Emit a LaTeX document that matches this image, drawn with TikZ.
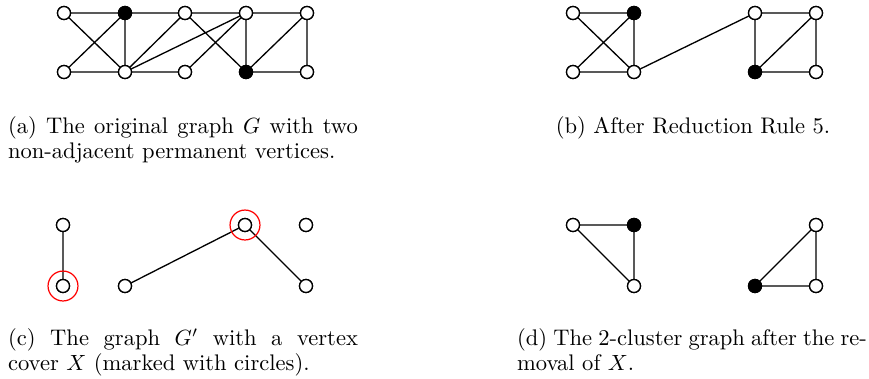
\documentclass[tikz,border=0pt]{standalone}
\usepackage{amsmath}
\begin{document}
\begin{tikzpicture}[x=0.4545pt,y=-0.4545pt,
  vtx/.style={circle,draw,line width=0.6pt,fill=white,minimum size=5.9pt,inner sep=0pt},
  perm/.style={vtx,fill=black},
  edge/.style={line width=0.6pt},
  cover/.style={circle,draw=red,line width=0.55pt,minimum size=13.6pt,inner sep=0pt},
  captfont/.style={font=\fontsize{10.25pt}{11.3pt}\selectfont},
  capt/.style={captfont,inner sep=0pt,text width=159pt,align=justify,anchor=north}]
\useasboundingbox (0,0) rectangle (869,378);
% (a)
\node[vtx]  (a1) at (64,13) {};
\node[perm] (a2) at (125,13) {};
\node[vtx]  (a3) at (185,13) {};
\node[vtx]  (a4) at (246,13) {};
\node[vtx]  (a5) at (307,13) {};
\node[vtx]  (b1) at (64,72) {};
\node[vtx]  (b2) at (125,72) {};
\node[vtx]  (b3) at (185,72) {};
\node[perm] (b4) at (246,72) {};
\node[vtx]  (b5) at (307,72) {};
\draw[edge] (a1)--(a2) (a2)--(a3) (a3)--(a4) (a4)--(a5)
  (b1)--(b2) (b2)--(b3) (b4)--(b5)
  (a1)--(b2) (b1)--(a2) (a2)--(b2) (b2)--(a3) (b2)--(a4) (b3)--(a4)
  (a3)--(b4) (a4)--(b4) (b4)--(a5) (a5)--(b5);
% (b)
\node[vtx]  (c1) at (573,13) {};
\node[perm] (c2) at (634,13) {};
\node[vtx]  (c4) at (755,13) {};
\node[vtx]  (c5) at (816,13) {};
\node[vtx]  (d1) at (573,72) {};
\node[vtx]  (d2) at (634,72) {};
\node[perm] (d4) at (755,72) {};
\node[vtx]  (d5) at (816,72) {};
\draw[edge] (c1)--(c2) (d1)--(d2) (c1)--(d2) (d1)--(c2) (c2)--(d2) (d2)--(c4)
  (c4)--(c5) (c4)--(d4) (d4)--(c5) (d4)--(d5) (c5)--(d5);
% (c)
\node[vtx] (e1) at (63,225) {};
\node[vtx] (f1) at (63,286) {};
\node[vtx] (f2) at (125,286) {};
\node[vtx] (e4) at (245,225) {};
\node[vtx] (e5) at (306,225) {};
\node[vtx] (f5) at (306,286) {};
\draw[edge] (e1)--(f1) (f2)--(e4) (e4)--(f5);
\node[cover] (x1) at (f1) {};
\node[cover] (x2) at (e4) {};
% (d)
\node[vtx]  (g1) at (573,225) {};
\node[perm] (g2) at (634,225) {};
\node[vtx]  (h2) at (634,286) {};
\node[perm] (h4) at (755,286) {};
\node[vtx]  (g5) at (816,225) {};
\node[vtx]  (h5) at (816,286) {};
\draw[edge] (g1)--(g2) (g2)--(h2) (g1)--(h2) (h4)--(g5) (g5)--(h5) (h4)--(h5);
% redraw vertices on top of edges
\foreach \n in {a1,a3,a4,a5,b1,b2,b3,b5,c1,c4,c5,d1,d2,d5,e1,f1,f2,e4,e5,f5,g1,h2,g5,h5}
  \node[vtx] at (\n) {};
\foreach \n in {a2,b4,c2,d4,g2,h4}
  \node[perm] at (\n) {};
% captions
\node[capt] (ca) at (183,116) {(a) The original graph $G$ with two\linebreak non-adjacent permanent vertices.};
\node[captfont,inner sep=0pt,anchor=north] (cb) at (693,116) {(b) After Reduction Rule 5.};
\node[capt] (cc) at (183,328) {(c) The graph $G'$ with a vertex\linebreak cover $X$ (marked with circles).};
\node[capt] (cd) at (692,328) {(d) The 2-cluster graph after the re-\linebreak moval of $X$.};
\end{tikzpicture}
\end{document}
